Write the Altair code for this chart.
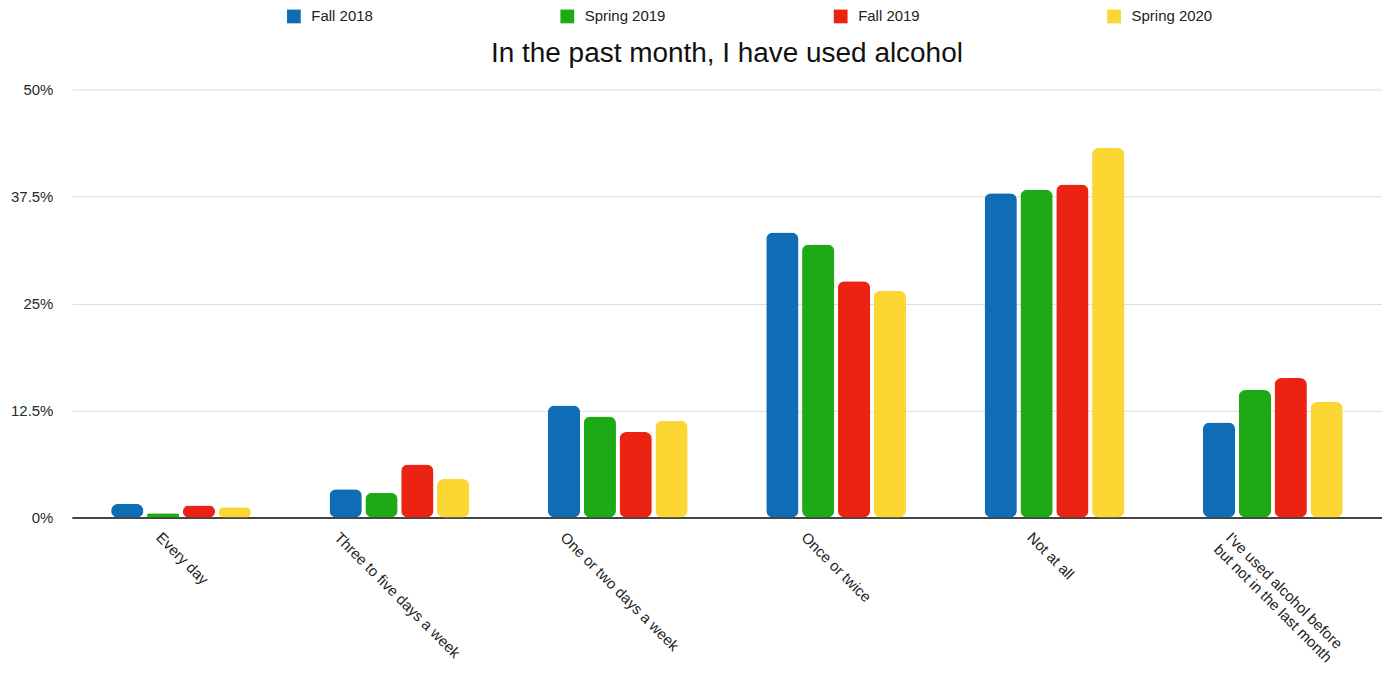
import altair as alt
import pandas as pd

categories = [
    "Every day",
    "Three to five days a week",
    "One or two days a week",
    "Once or twice",
    "Not at all",
    "I've used alcohol before but not in the last month",
]
series = ["Fall 2018", "Spring 2019", "Fall 2019", "Spring 2020"]
fall_2018 = [1.6, 3.3, 13.1, 33.3, 37.9, 11.1]
spring_2019 = [0.5, 2.9, 11.8, 31.9, 38.3, 14.9]
fall_2019 = [1.4, 6.2, 10.0, 27.6, 38.9, 16.3]
spring_2020 = [1.2, 4.5, 11.3, 26.5, 43.2, 13.5]
y_ticks = [0, 12.5, 25, 37.5, 50]
colors = ["#0f6db5", "#1eaa14", "#ec2312", "#fcd633"]

rows = []
for name, vals in zip(series, [fall_2018, spring_2019, fall_2019, spring_2020]):
    for c, v in zip(categories, vals):
        rows.append({"category": c, "series": name, "value": v})
df = pd.DataFrame(rows)

FONT = "Liberation Sans"

chart = (
    alt.Chart(df)
    .mark_bar(cornerRadius=7)
    .encode(
        x=alt.X(
            "category:N",
            sort=categories,
            title=None,
            scale=alt.Scale(paddingInner=0.36, paddingOuter=0.18),
            axis=alt.Axis(
                labelAngle=45,
                labelAlign="left",
                labelBaseline="top",
                labelFont=FONT,
                labelFontSize=15,
                labelColor="#222222",
                labelPadding=12,
                labelLimit=400,
                labelOffset={"expr": "-(min(length(datum.label), 25) * 3.55 - 7.5) * 0.707 + (length(datum.label) > 30 ? 18 : 0)"},
                labelExpr="length(datum.label) > 30 ? [substring(datum.label, 0, 24), substring(datum.label, 25)] : datum.label",
                ticks=False,
                domainColor="#444444",
                domainWidth=2,
            ),
        ),
        xOffset=alt.XOffset("series:N", sort=series, scale=alt.Scale(paddingInner=0.1)),
        y=alt.Y(
            "value:Q",
            title=None,
            scale=alt.Scale(domain=[0, 50]),
            axis=alt.Axis(
                values=y_ticks,
                labelExpr="datum.value + '%'",
                labelFont=FONT,
                labelFontSize=15,
                labelColor="#2a2a2a",
                labelPadding=19,
                ticks=False,
                domain=False,
                gridColor="#dddddd",
                gridWidth=1,
            ),
        ),
        color=alt.Color(
            "series:N",
            sort=series,
            scale=alt.Scale(domain=series, range=colors),
            legend=alt.Legend(
                title=None,
                orient="none",
                direction="horizontal",
                legendX=215,
                legendY=-81,
                symbolType="square",
                symbolSize=190,
                symbolStrokeWidth=0,
                labelFont=FONT,
                labelFontSize=15,
                labelOffset=10,
                labelColor="#222222",
                gridAlign="all",
                columnPadding=168,
                padding=0,
            ),
        ),
    )
    .properties(
        width=1313,
        height=429,
        padding={"left": 2, "right": 0, "top": 0, "bottom": 0},
        title=alt.Title(
            "In the past month, I have used alcohol",
            font=FONT,
            fontSize=28,
            fontWeight="normal",
            color="#111111",
            anchor="middle",
            offset=16,
            dy=75,
        ),
    )
    .configure_view(stroke=None)
)

chart.save("out.html", embed_options={"renderer": "svg", "actions": False})
